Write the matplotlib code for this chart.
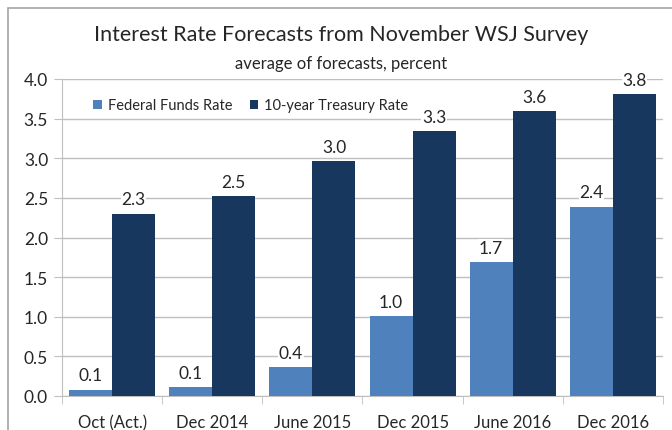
import numpy as np
import matplotlib
matplotlib.use("Agg")
import matplotlib.pyplot as plt
from matplotlib.patches import Rectangle

plt.rcParams['font.family'] = ['Lato', 'DejaVu Sans']

categories = ['Oct (Act.)', 'Dec 2014', 'June 2015', 'Dec 2015', 'June 2016', 'Dec 2016']
fed_funds = [0.08, 0.11, 0.36, 1.01, 1.69, 2.39]
treasury_10y = [2.30, 2.52, 2.96, 3.34, 3.59, 3.81]
y_ticks = [0.0, 0.5, 1.0, 1.5, 2.0, 2.5, 3.0, 3.5, 4.0]

fed_color = '#4F81BD'
tsy_color = '#17375E'
grid_color = '#BFBFBF'
text_color = '#262626'

fig = plt.figure(figsize=(6.72, 4.31), dpi=100)
ax = fig.add_axes([62 / 672, 1 - 397 / 431, 601 / 672, 317 / 431])

# outer chart frame
fig.patches.append(Rectangle((8 / 672, -0.05), 1.2, 1 - 9 / 431 + 0.05,
                             transform=fig.transFigure, fill=False,
                             edgecolor='#A6A6A6', linewidth=1.2))

x = np.arange(len(categories))
w = 0.43
b1 = ax.bar(x - w / 2, fed_funds, w, color=fed_color, label='Federal Funds Rate', zorder=3)
b2 = ax.bar(x + w / 2, treasury_10y, w, color=tsy_color, label='10-year Treasury Rate', zorder=3)

for bars, vals in [(b1, fed_funds), (b2, treasury_10y)]:
    for rect, v in zip(bars, vals):
        ax.text(rect.get_x() + rect.get_width() / 2, v + 0.08, f"{v:.1f}",
                ha='center', va='bottom', fontsize=12.5, color=text_color, zorder=4,
                bbox=dict(facecolor='white', edgecolor='none', pad=0.5))

ax.set_xlim(-0.5, len(categories) - 0.5)
ax.set_ylim(0, 4.0)
ax.set_yticks(y_ticks)
ax.set_yticklabels([f"{t:.1f}" for t in y_ticks])
ax.set_xticks(x)
ax.set_xticklabels(categories)
ax.set_xticks(np.arange(len(categories) + 1) - 0.5, minor=True)

ax.tick_params(axis='y', length=6, color=grid_color, labelsize=12.5, labelcolor=text_color, pad=4)
ax.tick_params(axis='x', which='major', length=0, labelsize=12, labelcolor=text_color, pad=13)
ax.tick_params(axis='x', which='minor', length=6, color=grid_color)

ax.yaxis.grid(True, color=grid_color, linewidth=1, zorder=0)
ax.set_axisbelow(True)
for side in ['top', 'right']:
    ax.spines[side].set_visible(False)
for side in ['left', 'bottom']:
    ax.spines[side].set_color(grid_color)

ax.legend(loc='upper left', bbox_to_anchor=(0.03, 0.98), ncol=2, frameon=False,
          fontsize=10.5, handlelength=0.6, handleheight=0.6, handletextpad=0.4,
          columnspacing=1.2, labelcolor=text_color)

fig.text(0.508, 1 - 35 / 431, 'Interest Rate Forecasts from November WSJ Survey',
         ha='center', va='center', fontsize=15.5, color=text_color)
fig.text(0.508, 1 - 64 / 431, 'average of forecasts, percent',
         ha='center', va='center', fontsize=12, color=text_color)

fig.savefig('out.png', dpi=100)
